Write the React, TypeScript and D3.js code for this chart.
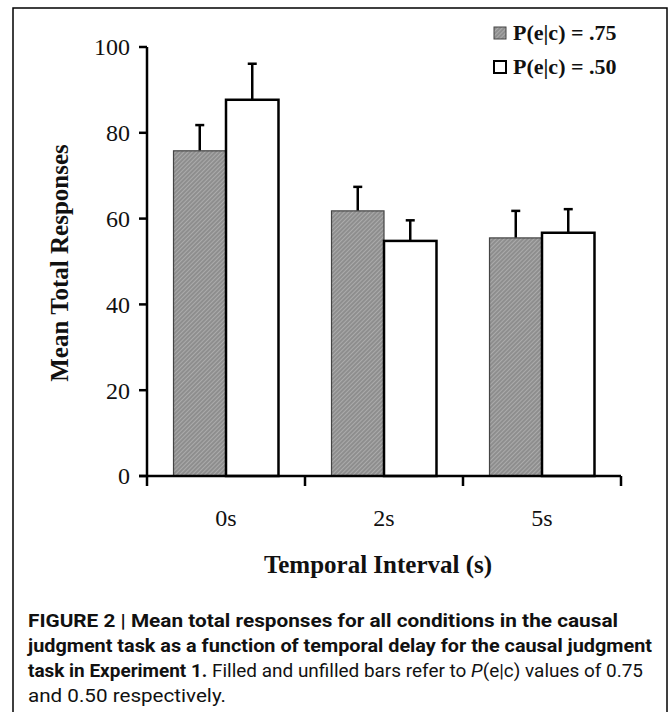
import React from "react";
import * as d3 from "d3";

const categories = ["0s", "2s", "5s"];
const seriesNames = ["P(e|c) = .75", "P(e|c) = .50"];
const means75 = [75.8, 61.8, 55.5];
const errs75 = [6.0, 5.6, 6.3];
const means50 = [87.7, 54.8, 56.7];
const errs50 = [8.4, 4.8, 5.5];
const yTicks = [0, 20, 40, 60, 80, 100];

const serif = "'Liberation Serif', 'Times New Roman', serif";
const sans = "Roboto, 'Liberation Sans', Arial, sans-serif";

export default function App() {
  const W = 671, H = 712;
  const y = d3.scaleLinear().domain([0, 100]).range([476, 47]);
  const x0 = d3.scaleBand<string>().domain(categories).range([147, 621]).padding(0);
  const x1 = d3
    .scaleBand<string>()
    .domain(seriesNames)
    .range([0, x0.bandwidth()])
    .paddingInner(0)
    .paddingOuter(0.505);

  const data = categories.map((c, i) => ({
    cat: c,
    vals: [
      { s: seriesNames[0], v: means75[i], e: errs75[i] },
      { s: seriesNames[1], v: means50[i], e: errs50[i] },
    ],
  }));

  const bounds = [...categories.map((c) => x0(c)!), x0.range()[1]];

  return (
    <svg
      width={W}
      height={H}
      style={{ position: "absolute", left: 0, top: 0, display: "block", background: "#fff" }}
    >
      <defs>
        <pattern id="hatch" width="3" height="3" patternUnits="userSpaceOnUse" patternTransform="rotate(-45)">
          <rect width="3" height="3" fill="#8e8e8e" />
          <line x1="0" y1="0.5" x2="3" y2="0.5" stroke="#ababab" strokeWidth="1" />
        </pattern>
      </defs>
      <rect x={13} y={8} width={654} height={730} fill="#fff" stroke="#000" strokeWidth={1.5} />

      {/* bars */}
      {data.map((d) =>
        d.vals.map((b, j) => {
          const bx = x0(d.cat)! + x1(b.s)!;
          const bw = x1.bandwidth();
          const cx = bx + bw / 2;
          return (
            <g key={d.cat + j}>
              <line x1={cx} x2={cx} y1={y(b.v)} y2={y(b.v + b.e)} stroke="#000" strokeWidth={2.5} />
              <line x1={cx - 4.5} x2={cx + 4.5} y1={y(b.v + b.e)} y2={y(b.v + b.e)} stroke="#000" strokeWidth={2.5} />
              <rect
                x={bx}
                y={y(b.v)}
                width={bw}
                height={y(0) - y(b.v)}
                fill={j === 0 ? "url(#hatch)" : "#fff"}
                stroke={j === 0 ? "#444" : "#000"}
                strokeWidth={j === 0 ? 1.2 : 2.5}
              />
            </g>
          );
        })
      )}

      {/* y axis */}
      <line x1={147} x2={147} y1={y(100)} y2={y(0)} stroke="#000" strokeWidth={2.5} />
      {yTicks.map((t) => (
        <g key={t}>
          <line x1={139} x2={147} y1={y(t)} y2={y(t)} stroke="#000" strokeWidth={2.5} />
          <text x={130} y={y(t)} dy="0.35em" textAnchor="end" fontFamily={serif} fontSize={24} fill="#111">
            {t}
          </text>
        </g>
      ))}

      {/* x axis */}
      <line x1={139} x2={621} y1={y(0)} y2={y(0)} stroke="#000" strokeWidth={2.5} />
      {bounds.map((bx, i) => (
        <line key={i} x1={bx} x2={bx} y1={y(0)} y2={y(0) + 10} stroke="#000" strokeWidth={2.5} />
      ))}
      {categories.map((c) => (
        <text key={c} x={x0(c)! + x0.bandwidth() / 2} y={526} textAnchor="middle" fontFamily={serif} fontSize={24} fill="#111">
          {c}
        </text>
      ))}

      <text x={378} y={573} textAnchor="middle" fontFamily={serif} fontSize={25} fontWeight="bold" fill="#111">
        Temporal Interval (s)
      </text>
      <text
        transform="translate(68,263) rotate(-90)"
        textAnchor="middle"
        fontFamily={serif}
        fontSize={25}
        fontWeight="bold"
        fill="#111"
      >
        Mean Total Responses
      </text>

      {/* legend */}
      {seriesNames.map((s, i) => (
        <g key={s} transform={`translate(494, ${27 + i * 34})`}>
          <rect
            x={0}
            y={0}
            width={12}
            height={12}
            fill={i === 0 ? "url(#hatch)" : "#fff"}
            stroke={i === 0 ? "#444" : "#000"}
            strokeWidth={i === 0 ? 1 : 2}
          />
          <text x={19} y={13} fontFamily={serif} fontSize={22} fontWeight="bold" fill="#111">
            {s}
          </text>
        </g>
      ))}

      {/* caption */}
      <g fontFamily={sans} fontSize={19} fill="#111">
        <text x={28} y={627} fontWeight="bold" textLength={590} lengthAdjust="spacingAndGlyphs">
          FIGURE 2 | Mean total responses for all conditions in the causal
        </text>
        <text x={28} y={652} fontWeight="bold" textLength={624} lengthAdjust="spacingAndGlyphs">
          judgment task as a function of temporal delay for the causal judgment
        </text>
        <text x={28} y={677} textLength={615} lengthAdjust="spacingAndGlyphs">
          <tspan fontWeight="bold">task in Experiment 1.</tspan>
          <tspan> Filled and unfilled bars refer to </tspan>
          <tspan fontStyle="italic">P</tspan>
          <tspan>(e|c) values of 0.75</tspan>
        </text>
        <text x={28} y={702} textLength={198} lengthAdjust="spacingAndGlyphs">
          and 0.50 respectively.
        </text>
      </g>
    </svg>
  );
}
